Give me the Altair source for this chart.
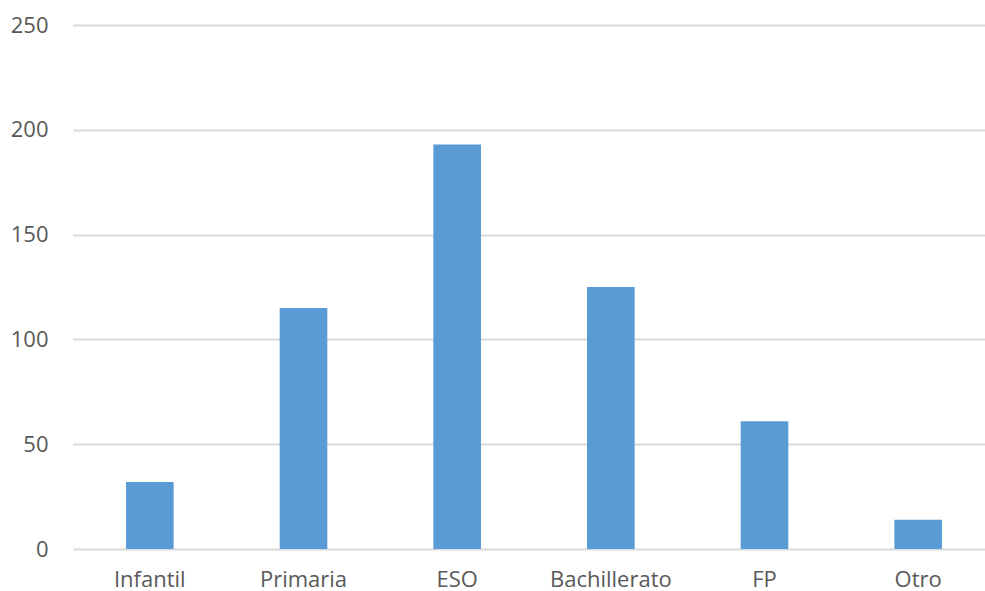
import altair as alt
import pandas as pd

categories = ["Infantil", "Primaria", "ESO", "Bachillerato", "FP", "Otro"]
values = [32, 115, 193, 125, 61, 14]

df = pd.DataFrame({"cat": categories, "val": values})

chart = alt.Chart(df).mark_bar(color="#5B9BD5").encode(
    x=alt.X("cat:N", sort=categories, title=None,
            scale=alt.Scale(paddingInner=0.69, paddingOuter=0.345, range=[0, 922]),
            axis=alt.Axis(labelAngle=0, labelFont="Open Sans", labelFontSize=22,
                          labelColor="#595959", ticks=False, domain=False, grid=False,
                          labelPadding=20)),
    y=alt.Y("val:Q", title=None,
            scale=alt.Scale(domain=[0, 250], nice=False),
            axis=alt.Axis(values=[0, 50, 100, 150, 200, 250], labelFont="Open Sans",
                          labelFontSize=22, labelColor="#595959", ticks=False,
                          domain=False, gridColor="#D9D9D9", gridWidth=2,
                          labelPadding=25)),
).properties(
    width=912, height=524,
    background="white",
    autosize=alt.AutoSizeParams(type="none"),
    padding={"left": 73, "top": 25, "right": 0, "bottom": 42},
).configure_view(strokeWidth=0, stroke=None)

chart.save("out.html", embed_options={"renderer": "svg", "actions": False})
